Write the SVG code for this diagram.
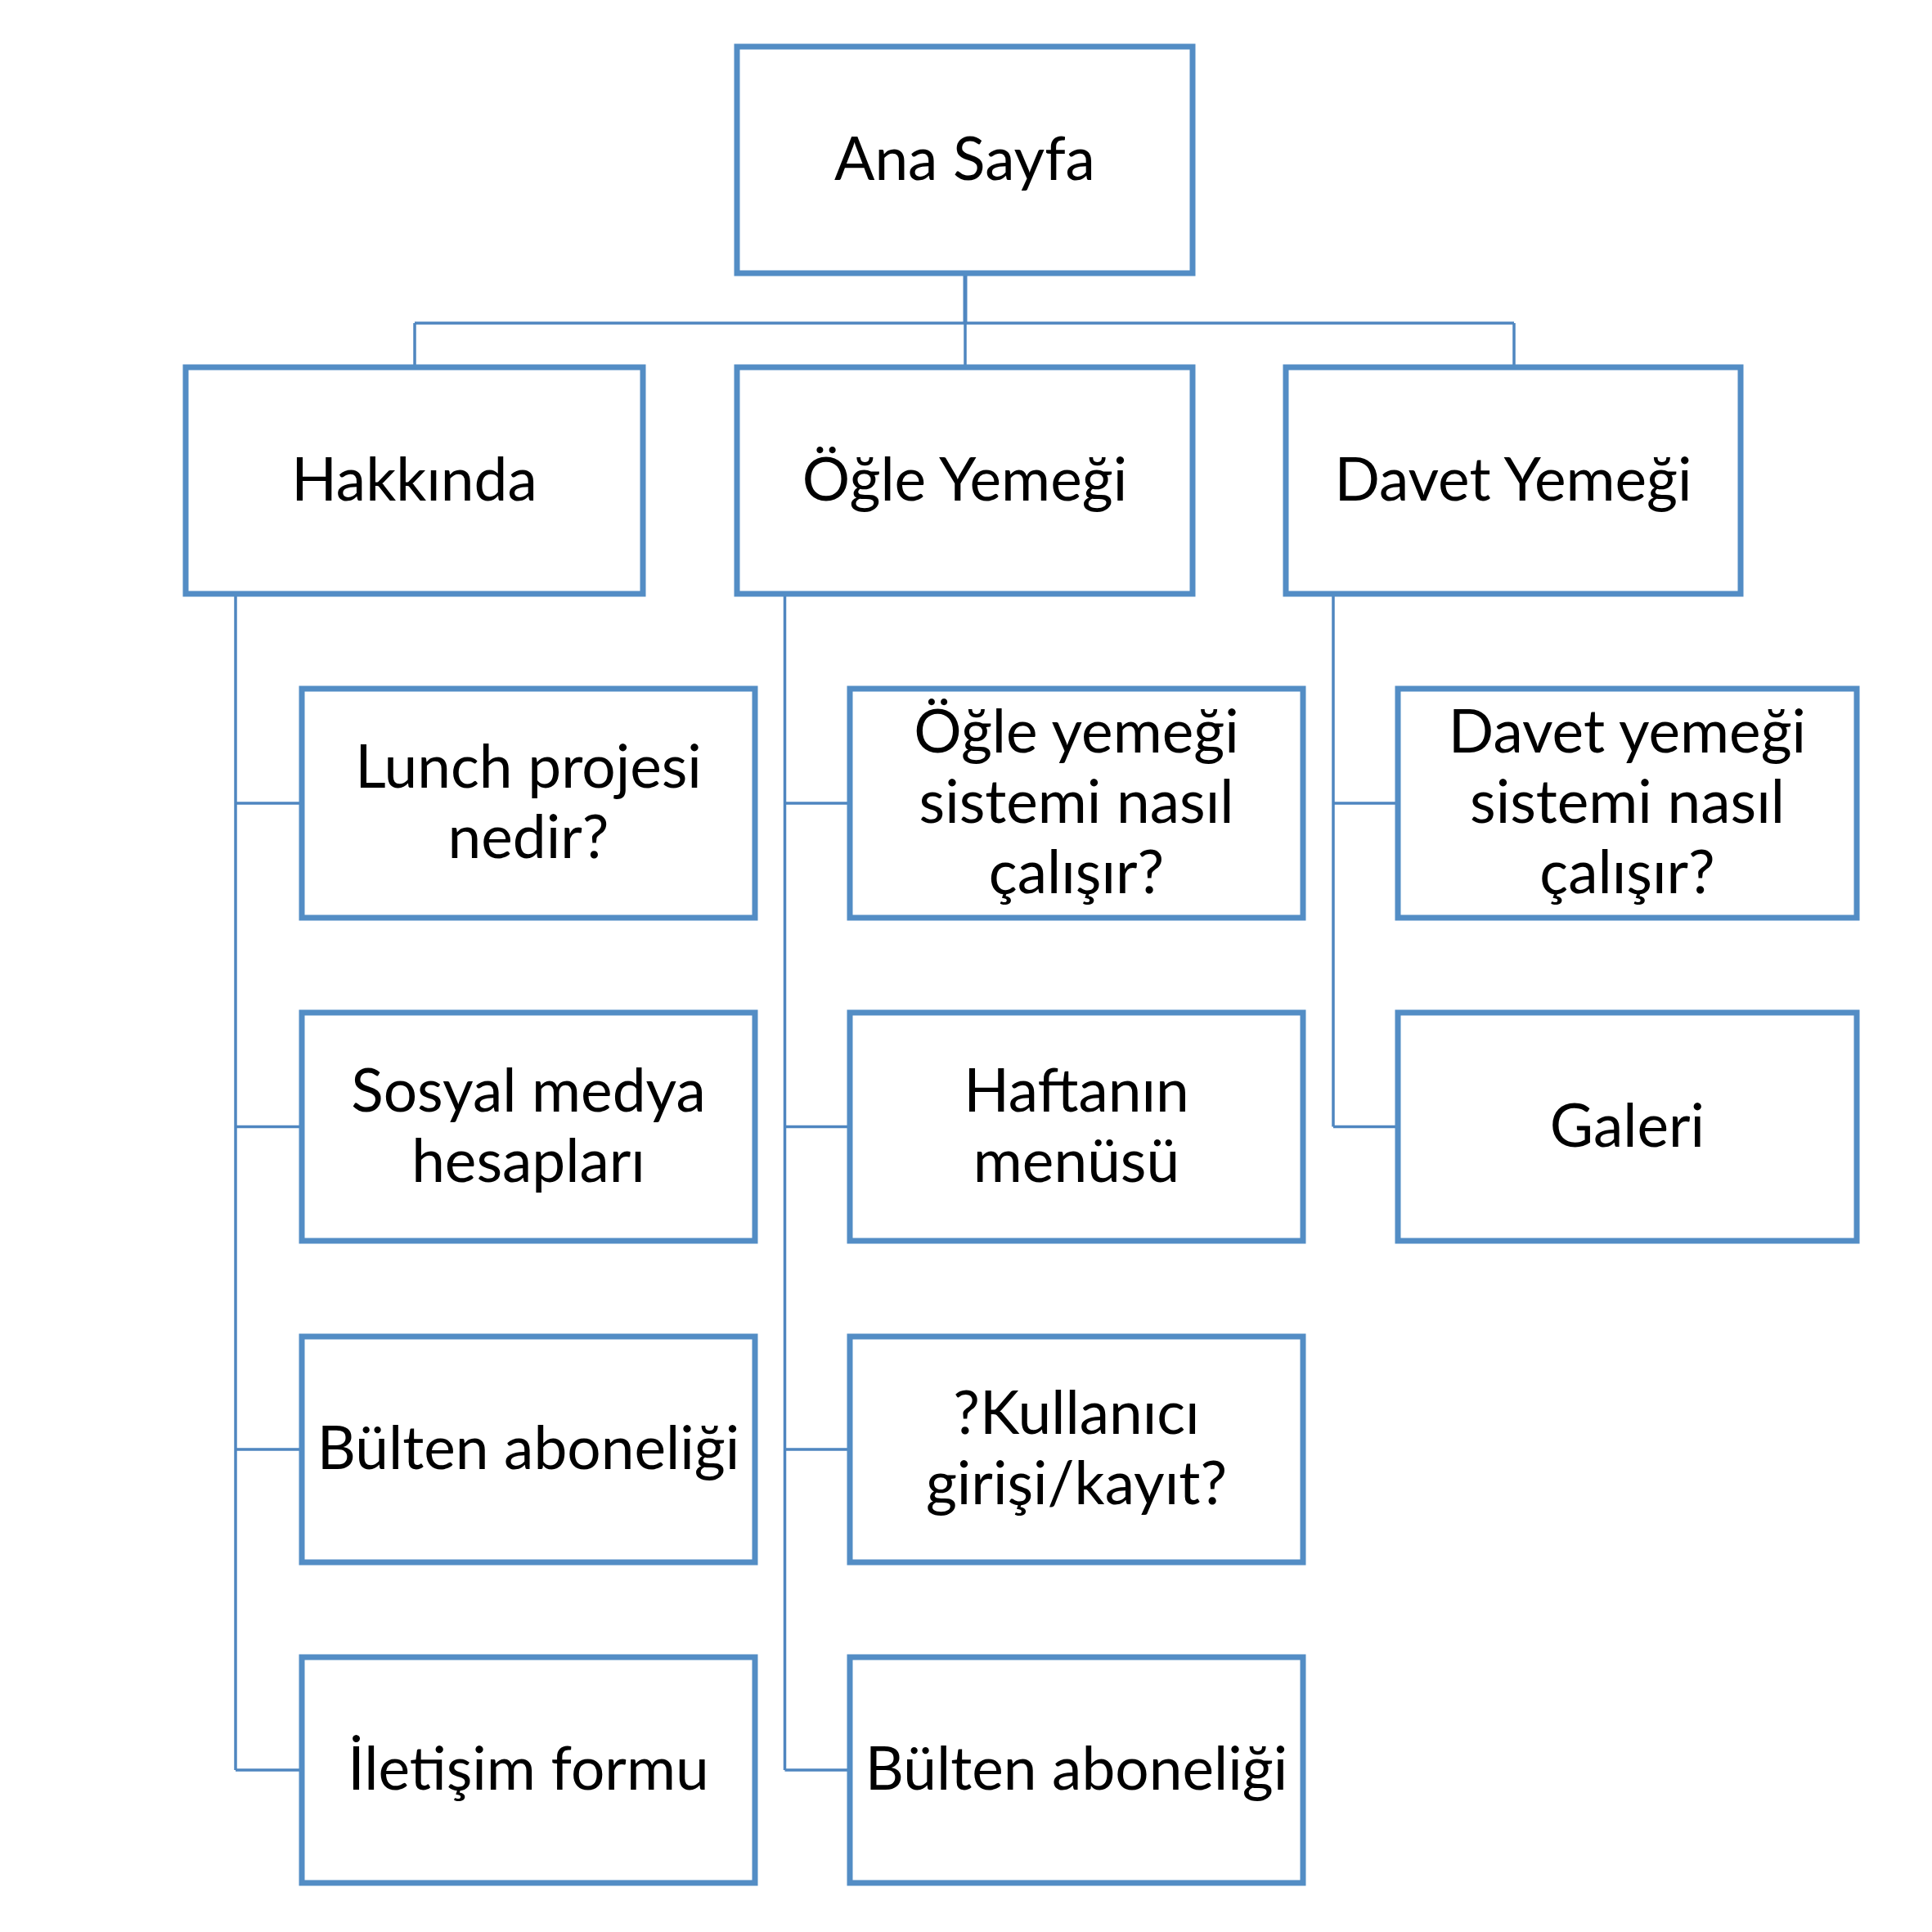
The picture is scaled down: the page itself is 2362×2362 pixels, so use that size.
<svg xmlns="http://www.w3.org/2000/svg" width="2362" height="2362" viewBox="0 0 2362 2362">
<style>
.box{fill:#ffffff;stroke:#538DC5;stroke-width:7}
.con{fill:none;stroke:#4F86C0;stroke-width:3.5}
.lbl{font-family:Lato,"Open Sans","DejaVu Sans",sans-serif;font-size:73px;fill:#000000;text-anchor:middle}
</style>
<rect width="2362" height="2362" fill="#ffffff"/>
<g id="connectors">
<path class="con" d="M1180,334 V395" style="stroke-width:5"/>
<path class="con" d="M507,395 H1851 M507,395 V449 M1180,395 V449 M1851,395 V449"/>
<path class="con" d="M288,726 V2164 M288,982 H369 M288,1377.5 H369 M288,1772 H369 M288,2164 H369"/>
<path class="con" d="M959.5,726 V2164 M959.5,982 H1039 M959.5,1377.5 H1039 M959.5,1772 H1039 M959.5,2164 H1039"/>
<path class="con" d="M1630,726 V1377.5 M1630,982 H1709 M1630,1377.5 H1709"/>
</g>
<g id="ana-sayfa"><rect class="box" x="901" y="57" width="557" height="277"/><text class="lbl" x="1179.5" y="220">Ana Sayfa</text></g>
<g id="hakkinda"><rect class="box" x="227" y="449" width="559" height="277"/><text class="lbl" x="506.5" y="612">Hakkında</text></g>
<g id="ogle-yemegi"><rect class="box" x="901" y="449" width="557" height="277"/><text class="lbl" x="1179.5" y="612">Öğle Yemeği</text></g>
<g id="davet-yemegi"><rect class="box" x="1572" y="449" width="556" height="277"/><text class="lbl" x="1850" y="612">Davet Yemeği</text></g>
<g id="lunch-projesi"><rect class="box" x="369" y="842" width="554" height="280"/><text class="lbl" x="646" y="963">Lunch projesi</text><text class="lbl" x="646" y="1049">nedir?</text></g>
<g id="sosyal-medya"><rect class="box" x="369" y="1238" width="554" height="279"/><text class="lbl" x="646" y="1358.5">Sosyal medya</text><text class="lbl" x="646" y="1444.5">hesapları</text></g>
<g id="bulten-1"><rect class="box" x="369" y="1634" width="554" height="276"/><text class="lbl" x="646" y="1796">Bülten aboneliği</text></g>
<g id="iletisim"><rect class="box" x="369" y="2026" width="554" height="276"/><text class="lbl" x="646" y="2188">İletişim formu</text></g>
<g id="ogle-sistem"><rect class="box" x="1039" y="842" width="554" height="280"/><text class="lbl" x="1316" y="920">Öğle yemeği</text><text class="lbl" x="1316" y="1006">sistemi nasıl</text><text class="lbl" x="1316" y="1092">çalışır?</text></g>
<g id="haftanin-menusu"><rect class="box" x="1039" y="1238" width="554" height="279"/><text class="lbl" x="1316" y="1358.5">Haftanın</text><text class="lbl" x="1316" y="1444.5">menüsü</text></g>
<g id="kullanici-girisi"><rect class="box" x="1039" y="1634" width="554" height="276"/><text class="lbl" x="1316" y="1753">?Kullanıcı</text><text class="lbl" x="1316" y="1839">girişi/kayıt?</text></g>
<g id="bulten-2"><rect class="box" x="1039" y="2026" width="554" height="276"/><text class="lbl" x="1316" y="2188">Bülten aboneliği</text></g>
<g id="davet-sistem"><rect class="box" x="1709" y="842" width="561" height="280"/><text class="lbl" x="1989.5" y="920">Davet yemeği</text><text class="lbl" x="1989.5" y="1006">sistemi nasıl</text><text class="lbl" x="1989.5" y="1092">çalışır?</text></g>
<g id="galeri"><rect class="box" x="1709" y="1238" width="561" height="279"/><text class="lbl" x="1989.5" y="1401.5">Galeri</text></g>
</svg>
